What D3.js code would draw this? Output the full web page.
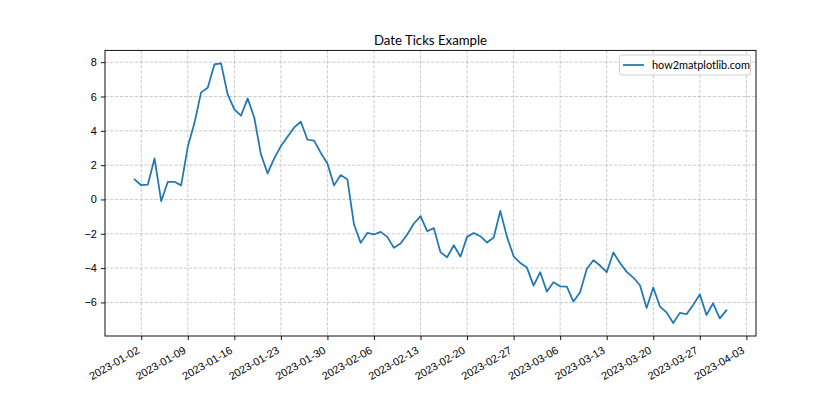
<!DOCTYPE html>
<html>
<head>
<meta charset="utf-8">
<script src="https://cdn.jsdelivr.net/npm/d3@7"></script>
<style>
  body { margin: 0; background: #fff; }
  svg { display: block; font-family: "Lato", "Liberation Sans", sans-serif; }
</style>
</head>
<body>
<svg id="chart" width="840" height="420"></svg>
<script>
// daily series, one value per day starting 2023-01-01
const startDay = "2023-01-01";
const values = [
  1.17, 0.83, 0.87, 2.39, -0.10, 1.03, 1.03, 0.82, 3.07, 4.45,
  6.24, 6.51, 7.87, 7.93, 6.12, 5.25, 4.88, 5.89, 4.76, 2.63,
  1.52, 2.39, 3.11, 3.65, 4.20, 4.53, 3.48, 3.43, 2.71, 2.10,
  0.82, 1.42, 1.17, -1.46, -2.53, -1.95, -2.04, -1.89, -2.18, -2.82,
  -2.57, -2.04, -1.40, -0.97, -1.85, -1.67, -3.07, -3.37, -2.67, -3.33,
  -2.18, -1.95, -2.14, -2.51, -2.22, -0.67, -2.18, -3.31, -3.70, -3.97,
  -5.02, -4.24, -5.37, -4.82, -5.06, -5.08, -5.95, -5.41, -4.05, -3.54,
  -3.85, -4.24, -3.09, -3.70, -4.22, -4.55, -5.00, -6.32, -5.13, -6.24,
  -6.58, -7.20, -6.61, -6.69, -6.15, -5.53, -6.73, -6.05, -6.93, -6.46
];
const xTickLabels = [
  "2023-01-02", "2023-01-09", "2023-01-16", "2023-01-23", "2023-01-30",
  "2023-02-06", "2023-02-13", "2023-02-20", "2023-02-27", "2023-03-06",
  "2023-03-13", "2023-03-20", "2023-03-27", "2023-04-03"
];
const yTicks = [-6, -4, -2, 0, 2, 4, 6, 8];
const title = "Date Ticks Example";
const seriesName = "how2matplotlib.com";

const parse = d3.utcParse("%Y-%m-%d");
const t0 = parse(startDay);
const data = values.map((v, i) => ({ date: d3.utcDay.offset(t0, i), value: v }));
const xTicks = xTickLabels.map(parse);

const svg = d3.select("#chart");
const margin = { left: 105, right: 84, top: 50.4, bottom: 84 };
const W = 840, H = 420;
const x0 = margin.left, x1 = W - margin.right;
const y0 = margin.top, y1 = H - margin.bottom;

// matplotlib-like 5% padding around the data
const xExt = d3.extent(data, d => d.date);
const xPad = (xExt[1] - xExt[0]) * 0.05;
const x = d3.scaleUtc()
  .domain([new Date(+xExt[0] - xPad), new Date(+xExt[1] + xPad)])
  .range([x0, x1]);
const yExt = d3.extent(data, d => d.value);
const yPad = (yExt[1] - yExt[0]) * 0.05;
const y = d3.scaleLinear()
  .domain([yExt[0] - yPad, yExt[1] + yPad])
  .range([y1, y0]);

const fs = 10.9;
const tickLen = 4.08, pad = 4.08;

// grid
const grid = svg.append("g")
  .attr("stroke", "#b0b0b0").attr("stroke-opacity", 0.7)
  .attr("stroke-width", 0.93).attr("stroke-dasharray", "3.45,1.49");
grid.selectAll("line.gx").data(xTicks).enter().append("line")
  .attr("x1", d => x(d)).attr("x2", d => x(d))
  .attr("y1", y0).attr("y2", y1);
grid.selectAll("line.gy").data(yTicks).enter().append("line")
  .attr("x1", x0).attr("x2", x1)
  .attr("y1", d => y(d)).attr("y2", d => y(d));

// series line
const line = d3.line().x(d => x(d.date)).y(d => y(d.value));
svg.append("path").datum(data)
  .attr("d", line)
  .attr("fill", "none")
  .attr("stroke", "#1f77b4")
  .attr("stroke-width", 1.75)
  .attr("stroke-linejoin", "round")
  .attr("stroke-linecap", "square");

// x axis
const xAxis = d3.axisBottom(x).tickValues(xTicks)
  .tickSize(tickLen).tickPadding(pad)
  .tickFormat(d3.utcFormat("%Y-%m-%d"));
const gx = svg.append("g").attr("transform", `translate(0,${y1})`).call(xAxis);
gx.select(".domain").remove();
gx.selectAll(".tick line").attr("stroke", "#000").attr("stroke-width", 0.93);
gx.selectAll(".tick text")
  .attr("font-size", fs).attr("fill", "#000")
  .attr("text-anchor", "end")
  .attr("y", 0).attr("dy", 0)
  .attr("transform", "translate(-1.5,16.5) rotate(-30)");

// y axis
const yAxis = d3.axisLeft(y).tickValues(yTicks)
  .tickSize(tickLen).tickPadding(pad)
  .tickFormat(d => d < 0 ? "\u2212" + Math.abs(d) : d);
const gy = svg.append("g").attr("transform", `translate(${x0},0)`).call(yAxis);
gy.select(".domain").remove();
gy.selectAll(".tick line").attr("stroke", "#000").attr("stroke-width", 0.93);
gy.selectAll(".tick text").attr("font-size", fs).attr("fill", "#000");

// spines
svg.append("rect")
  .attr("x", x0).attr("y", y0)
  .attr("width", x1 - x0).attr("height", y1 - y0)
  .attr("fill", "none").attr("stroke", "#000").attr("stroke-width", 0.93);

// title
svg.append("text")
  .attr("x", (x0 + x1) / 2).attr("y", 45)
  .attr("text-anchor", "middle")
  .attr("font-size", 13.2).attr("fill", "#000")
  .text(title);

// legend
const lg = svg.append("g");
lg.append("rect")
  .attr("x", 619.5).attr("y", 55).attr("width", 131).attr("height", 20)
  .attr("rx", 2.5).attr("fill", "#fff").attr("fill-opacity", 0.8)
  .attr("stroke", "#cccccc").attr("stroke-width", 0.93);
lg.append("line")
  .attr("x1", 623).attr("x2", 644).attr("y1", 65).attr("y2", 65)
  .attr("stroke", "#1f77b4").attr("stroke-width", 1.75);
lg.append("text")
  .attr("x", 652).attr("y", 69)
  .attr("font-size", fs).attr("fill", "#000")
  .text(seriesName);
</script>
</body>
</html>
